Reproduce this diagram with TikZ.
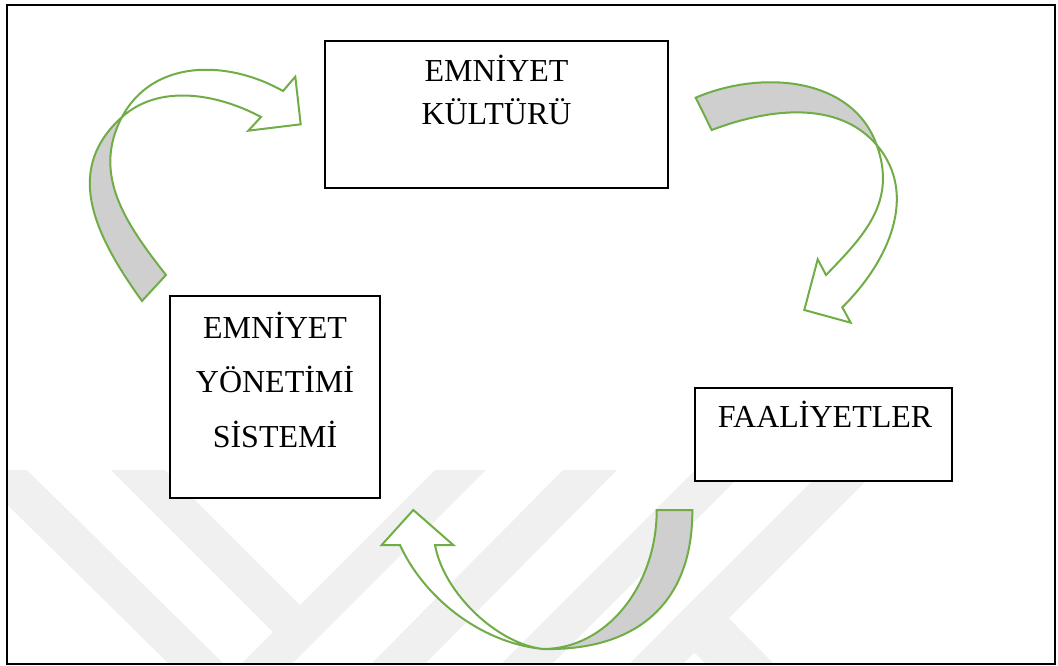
\documentclass[tikz,border=0pt]{standalone}
\usepackage{fontspec}
\setmainfont{Liberation Serif}
\definecolor{agreen}{HTML}{70AD47}
\definecolor{agray}{HTML}{CFCFCF}
\definecolor{wmark}{HTML}{F0F0F0}
\begin{document}
\begin{tikzpicture}[x=1pt,y=-1pt,
  box/.style={draw=black,line width=1.4pt,fill=white,inner sep=0pt},
  lbl/.style={font=\fontsize{32}{38}\selectfont,inner sep=0pt,anchor=base},
  arrgray/.style={draw=agreen,line width=2pt,fill=agray,line join=miter},
  arrwhite/.style={draw=agreen,line width=2pt,fill=white,line join=miter},
  wm/.style={fill=wmark}]
\useasboundingbox (0,0) rectangle (1058,666);
% watermark
\begin{scope}
  \clip (8,470) rectangle (1054,663);
  \fill[wm] (-28,470) -- (27,470) -- (223,663) -- (168,663) -- cycle;
  \fill[wm] (111,470) -- (165,470) -- (300,605) -- (273,632) -- cycle;
  \fill[wm] (435,470) -- (486,470) -- (293,663) -- (242,663) -- cycle;
  \fill[wm] (563,470) -- (617,470) -- (426,663) -- (372,663) -- cycle;
  \fill[wm] (695,470) -- (746,470) -- (553,663) -- (502,663) -- cycle;
  \fill[wm] (823,470) -- (877,470) -- (684,663) -- (630,663) -- cycle;
  \fill[wm] (667,626) -- (702,591) -- (773,663) -- (705,663) -- cycle;
\end{scope}
% frame
\draw[line width=2pt] (7,5) rectangle (1055,664);
% boxes
\node[box,minimum width=343pt,minimum height=147pt] (kultur) at (496.5,114.5) {};
\node[box,minimum width=210pt,minimum height=202pt] (sistem) at (275,397) {};
\node[box,minimum width=257pt,minimum height=93pt] (faal) at (823.5,434.5) {};
\node[lbl] (kultur1) at (496.5,82) {EMNİYET};
\node[lbl] (kultur2) at (496.5,125) {KÜLTÜRÜ};
\node[lbl] (sistem1) at (275,338) {EMNİYET};
\node[lbl] (sistem2) at (275,392) {YÖNETİMİ};
\node[lbl] (sistem3) at (275,447) {SİSTEMİ};
\node[lbl] (faal1) at (825,427) {FAALİYETLER};
% arrow 1: sistem -> kultur
\coordinate (a1x) at (122,117);
\filldraw[arrgray] (142,301) .. controls (89.35,228.1) and (66.3,167.2) .. (a1x)
  .. controls (91.5,174.5) and (125.7,223.6) .. (166,275) -- cycle;
\filldraw[arrwhite] (a1x) .. controls (152.6,59.5) and (226.4,59.1) .. (283,91)
  -- (295.3,76.7) -- (300.7,124.3) -- (248.3,130.7) -- (261,117)
  .. controls (217,93.5) and (159.2,83.6) .. (a1x) -- cycle;
% arrow 2: kultur -> faal
\coordinate (a2x) at (876.7,145);
\filldraw[arrgray] (695.7,97.7) .. controls (760,70) and (852,76) .. (a2x)
  .. controls (837.7,99.4) and (767.8,108.7) .. (711.7,130) -- cycle;
\filldraw[arrwhite] (a2x) .. controls (897.1,201.4) and (864.5,235.4) .. (826,275)
  -- (817.7,259.3) -- (804.3,310) -- (850.7,322.7) -- (842.3,307.3)
  .. controls (888.4,261.8) and (919,194.4) .. (a2x) -- cycle;
% arrow 3: faal -> sistem
\coordinate (a3x) at (543,649);
\filldraw[arrgray] (656.7,510) .. controls (656.7,586.7) and (605.8,649) .. (a3x)
  .. controls (640,651) and (693,600) .. (692.3,510) -- cycle;
\filldraw[arrwhite] (a3x) .. controls (478,642.5) and (422.6,595) .. (400,545)
  -- (381.7,545) -- (413.3,510) -- (453.3,545) -- (435,545)
  .. controls (444,594) and (498,644) .. (a3x) -- cycle;
\end{tikzpicture}
\end{document}
